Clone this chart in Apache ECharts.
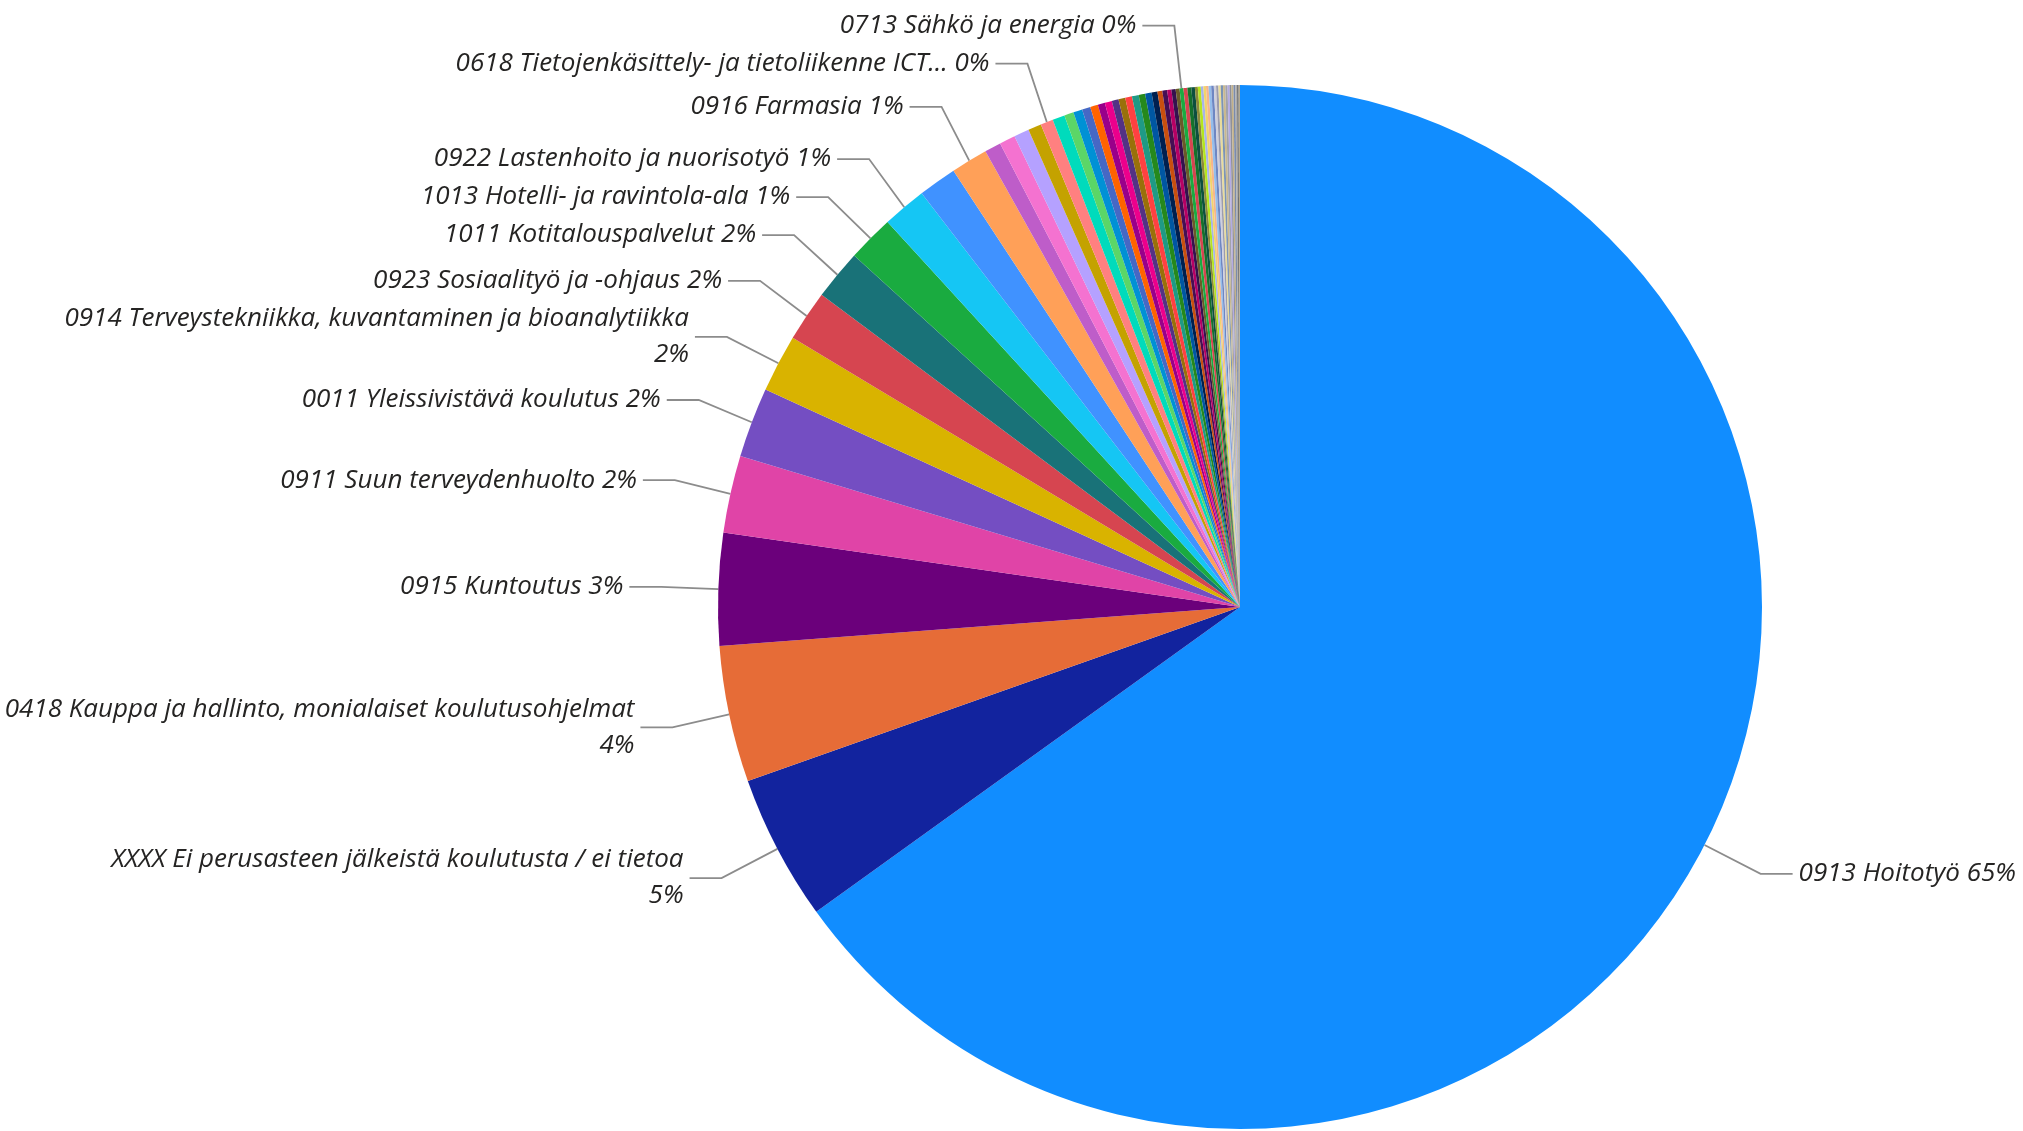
<!DOCTYPE html>
<html>
<head>
<meta charset="utf-8">
<script src="https://cdn.jsdelivr.net/npm/echarts@6/dist/echarts.min.js"></script>
<style>
  html, body { margin: 0; padding: 0; background: #ffffff; }
  #chart { width: 2023px; height: 1131px; }
</style>
</head>
<body>
<div id="chart"></div>
<script>
// Categories in drawing order (clockwise from 12 o'clock, descending share)
var categories = [
  "0913 Hoitotyö",
  "XXXX Ei perusasteen jälkeistä koulutusta / ei tietoa",
  "0418 Kauppa ja hallinto, monialaiset koulutusohjelmat",
  "0915 Kuntoutus",
  "0911 Suun terveydenhuolto",
  "0011 Yleissivistävä koulutus",
  "0914 Terveystekniikka, kuvantaminen ja bioanalytiikka",
  "0923 Sosiaalityö ja -ohjaus",
  "1011 Kotitalouspalvelut",
  "1013 Hotelli- ja ravintola-ala",
  "0922 Lastenhoito ja nuorisotyö",
  "Muu koulutusala 12",
  "0916 Farmasia",
  "Muu koulutusala 14",
  "Muu koulutusala 15",
  "Muu koulutusala 16",
  "Muu koulutusala 17",
  "0618 Tietojenkäsittely- ja tietoliikenne ICT...",
  "Muu koulutusala 19",
  "Muu koulutusala 20",
  "Muu koulutusala 21",
  "Muu koulutusala 22",
  "Muu koulutusala 23",
  "Muu koulutusala 24",
  "Muu koulutusala 25",
  "Muu koulutusala 26",
  "Muu koulutusala 27",
  "Muu koulutusala 28",
  "Muu koulutusala 29",
  "Muu koulutusala 30",
  "Muu koulutusala 31",
  "Muu koulutusala 32",
  "Muu koulutusala 33",
  "Muu koulutusala 34",
  "Muu koulutusala 35",
  "Muu koulutusala 36",
  "Muu koulutusala 37",
  "0713 Sähkö ja energia",
  "Muu koulutusala 39",
  "Muu koulutusala 40",
  "Muu koulutusala 41",
  "Muu koulutusala 42",
  "Muu koulutusala 43",
  "Muu koulutusala 44",
  "Muu koulutusala 45",
  "Muu koulutusala 46",
  "Muu koulutusala 47",
  "Muu koulutusala 48",
  "Muu koulutusala 49",
  "Muu koulutusala 50",
  "Muu koulutusala 51",
  "Muu koulutusala 52",
  "Muu koulutusala 53",
  "Muu koulutusala 54",
  "Muu koulutusala 55",
  "Muu koulutusala 56",
  "Muu koulutusala 57",
  "Muu koulutusala 58",
  "Muu koulutusala 59",
  "Muu koulutusala 60",
  "Muu koulutusala 61"
];

// Shares (%)
var shares = [
  65.08, 4.52, 4.22, 3.47, 2.39, 2.17, 1.78, 1.58, 1.56, 1.44, 1.36, 1.19, 1.14,
  0.51, 0.49, 0.47, 0.41, 0.39, 0.38,
  0.29, 0.28, 0.26, 0.24, 0.22, 0.22, 0.21, 0.21, 0.21, 0.21, 0.20, 0.20, 0.18,
  0.15, 0.15, 0.13, 0.13, 0.12, 0.12, 0.12, 0.12, 0.11,
  0.09, 0.09, 0.08, 0.08, 0.08, 0.08, 0.08, 0.07, 0.07, 0.07,
  0.07, 0.07, 0.07, 0.06, 0.06, 0.06, 0.06, 0.05, 0.05, 0.04
];

// Slice colours (Power BI style palette)
var sliceColors = [
  "#118DFF", "#12239E", "#E66C37", "#6B007B", "#E044A7", "#744EC2", "#D9B300",
  "#D64550", "#197278", "#1AAB40", "#15C6F4", "#4092FF", "#FFA058", "#BE5DC9",
  "#F472D0", "#B5A1FF", "#C4A200", "#FF8080", "#00DBBC", "#5BD667", "#0091D5",
  "#4668C5", "#FF6300", "#99008A", "#EC008C", "#533285", "#99700A", "#FF4141",
  "#1F9A85", "#25891C", "#0057A2", "#002050", "#C94F0F", "#450F54", "#B60064",
  "#34124F", "#6A5A29", "#1AAB40", "#D64550", "#15712B", "#0D4F3F",
  "#8C8A3A", "#B5E61D", "#A8B4E8", "#F2D46B", "#F7B58A", "#94BDEB", "#6E86C2",
  "#CFCFDC", "#9C9CAE", "#E9DC9A", "#7C94B4", "#C9B98F", "#A2A2AA", "#B3AAE3",
  "#8F9099", "#C2B189", "#7B8BAB", "#ABABAB", "#6F6F6F", "#B3AA92"
];

// Categories that carry a data label in the reference
var labeledCategories = [
  "0913 Hoitotyö",
  "XXXX Ei perusasteen jälkeistä koulutusta / ei tietoa",
  "0418 Kauppa ja hallinto, monialaiset koulutusohjelmat",
  "0915 Kuntoutus",
  "0911 Suun terveydenhuolto",
  "0011 Yleissivistävä koulutus",
  "0914 Terveystekniikka, kuvantaminen ja bioanalytiikka",
  "0923 Sosiaalityö ja -ohjaus",
  "1011 Kotitalouspalvelut",
  "1013 Hotelli- ja ravintola-ala",
  "0922 Lastenhoito ja nuorisotyö",
  "0916 Farmasia",
  "0618 Tietojenkäsittely- ja tietoliikenne ICT...",
  "0713 Sähkö ja energia"
];

var data = categories.map(function (name, i) {
  var shown = labeledCategories.indexOf(name) >= 0;
  return {
    name: name,
    value: shares[i],
    label: { show: shown },
    labelLine: { show: shown }
  };
});

var chart = echarts.init(document.getElementById('chart'), null, { renderer: 'canvas' });
chart.setOption({
  backgroundColor: '#ffffff',
  animation: false,
  color: sliceColors,
  series: [{
    type: 'pie',
    center: [1240, 607],
    radius: [0, 522],
    startAngle: 90,
    clockwise: true,
    avoidLabelOverlap: true,
    data: data,
    itemStyle: { borderWidth: 0 },
    label: {
      show: true,
      position: 'outside',
      fontFamily: "'Segoe UI', 'Open Sans', sans-serif",
      fontStyle: 'italic',
      fontSize: 26,
      lineHeight: 36,
      color: '#252423',
      overflow: 'none',
      distanceToLabelLine: 6,
      formatter: function (p) {
        var pct = Math.round(p.percent);
        var sep = p.name.length > 50 ? '\n' : ' ';
        return p.name + sep + pct + '%';
      }
    },
    labelLine: {
      show: true,
      length: 63,
      length2: 32,
      lineStyle: { color: '#8c8c8c', width: 1.8 }
    },
    emphasis: { disabled: true }
  }]
});
</script>
</body>
</html>
